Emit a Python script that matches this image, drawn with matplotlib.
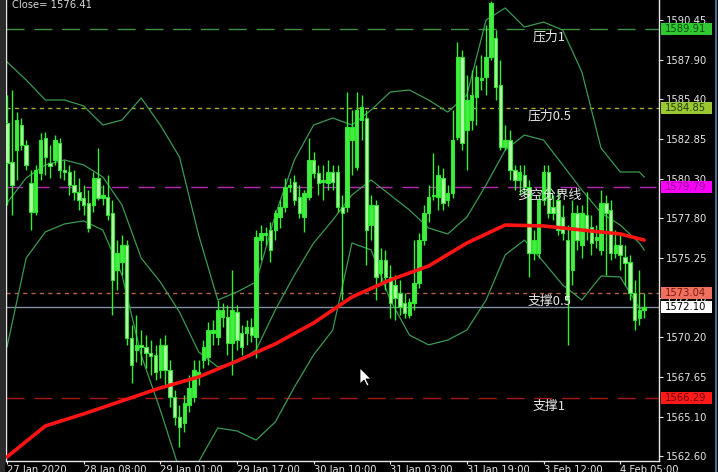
import matplotlib
matplotlib.use('Agg')
import matplotlib.pyplot as plt
import numpy as np
from matplotlib.transforms import blended_transform_factory
from matplotlib.lines import Line2D
from matplotlib.patches import Rectangle, Polygon

plt.rcParams['font.family'] = ['DejaVu Sans']
cjk = ['Noto Sans CJK SC', 'DejaVu Sans']

# H1 candles
opens = [1583.88, 1581.39, 1582.16, 1583.75, 1582.47, 1580.05, 1578.19, 1580.69, 1582.92, 1581.32,
         1581.52, 1582.60, 1580.88, 1580.75, 1579.92, 1579.47, 1579.09, 1578.77, 1578.64, 1580.37,
         1579.09, 1579.15, 1578.13, 1574.49, 1575.00, 1576.08, 1570.14, 1569.38, 1569.70, 1569.57,
         1569.18, 1569.06, 1568.10, 1569.70, 1568.10, 1566.37, 1565.09, 1564.71, 1565.86, 1566.37,
         1567.78, 1568.74, 1568.93, 1570.46, 1570.20, 1571.48, 1571.48, 1569.82, 1571.80, 1570.46,
         1570.46, 1570.84, 1570.20, 1576.40, 1576.72, 1577.04, 1577.04, 1577.87, 1578.51, 1579.79,
         1580.11, 1579.15, 1577.87, 1579.15, 1581.52, 1580.69, 1580.11, 1580.05, 1580.75, 1580.75,
         1578.51, 1578.51, 1582.79, 1581.07, 1584.07, 1584.20, 1577.36, 1578.64, 1574.30, 1575.13,
         1574.04, 1573.53, 1573.02, 1572.38, 1571.61, 1572.38, 1573.66, 1576.40, 1578.13, 1579.22,
         1579.15, 1580.37, 1578.96, 1579.41, 1582.99, 1588.10, 1583.43, 1584.07, 1585.54, 1586.63,
         1586.82, 1588.10, 1589.31, 1586.31, 1582.35, 1582.79, 1580.88, 1580.24, 1580.56, 1579.79,
         1575.57, 1575.57, 1578.96, 1580.75, 1578.51, 1578.96, 1577.87, 1576.40, 1574.49, 1578.13,
         1576.08, 1578.00, 1577.23, 1576.40, 1575.77, 1578.77, 1578.32, 1575.57, 1576.08, 1575.32,
         1575.00, 1573.02, 1571.42, 1571.93]
highs = [1585.67, 1585.99, 1584.58, 1584.20, 1582.79, 1580.88, 1581.20, 1583.24, 1583.31, 1582.47,
         1583.11, 1582.92, 1581.52, 1581.20, 1580.88, 1580.37, 1579.92, 1579.60, 1580.75, 1582.28,
         1579.92, 1580.56, 1578.96, 1576.40, 1576.72, 1576.40, 1570.97, 1571.61, 1570.65, 1570.33,
         1570.01, 1569.70, 1570.14, 1570.33, 1568.74, 1566.82, 1565.86, 1566.50, 1567.78, 1568.74,
         1568.74, 1570.01, 1571.16, 1571.29, 1572.57, 1572.38, 1572.25, 1574.49, 1572.25, 1570.97,
         1571.29, 1571.42, 1577.04, 1577.36, 1577.23, 1577.55, 1578.32, 1578.96, 1580.37, 1580.37,
         1580.56, 1579.92, 1579.60, 1582.92, 1582.03, 1581.20, 1581.20, 1581.52, 1581.20, 1581.20,
         1579.28, 1585.86, 1584.71, 1585.86, 1585.67, 1584.71, 1579.28, 1578.96, 1575.89, 1575.77,
         1574.81, 1574.17, 1573.85, 1573.02, 1572.70, 1576.40, 1576.85, 1578.64, 1579.92, 1581.96,
         1581.20, 1581.00, 1579.92, 1584.71, 1589.06, 1588.55, 1586.95, 1587.27, 1587.59, 1588.23,
         1590.14, 1591.70, 1589.82, 1587.91, 1583.75, 1583.43, 1581.20, 1581.20, 1581.20, 1580.24,
         1577.04, 1579.28, 1581.20, 1581.20, 1579.28, 1579.60, 1578.64, 1577.36, 1578.96, 1578.64,
         1578.64, 1579.47, 1578.00, 1577.36, 1579.60, 1579.28, 1578.96, 1577.04, 1576.72, 1576.08,
         1575.45, 1573.85, 1574.49, 1573.02]
lows = [1578.64, 1578.00, 1580.24, 1582.16, 1580.88, 1577.04, 1578.00, 1580.24, 1580.56, 1580.37,
        1581.20, 1580.37, 1580.24, 1579.28, 1578.96, 1578.32, 1578.00, 1576.92, 1578.19, 1578.96,
        1578.64, 1577.68, 1571.61, 1573.21, 1574.17, 1569.70, 1567.27, 1568.61, 1568.42, 1568.22,
        1567.78, 1567.46, 1567.59, 1567.14, 1565.73, 1564.58, 1563.18, 1564.14, 1565.41, 1566.05,
        1567.14, 1568.22, 1568.42, 1569.70, 1569.70, 1570.84, 1569.06, 1567.78, 1569.38, 1569.06,
        1569.70, 1569.89, 1568.86, 1575.13, 1576.08, 1575.00, 1576.40, 1577.17, 1578.19, 1579.47,
        1578.64, 1577.81, 1576.92, 1578.96, 1580.37, 1579.28, 1578.96, 1579.60, 1579.60, 1578.19,
        1572.57, 1578.19, 1580.56, 1580.88, 1582.79, 1574.81, 1576.40, 1572.57, 1573.53, 1573.21,
        1571.42, 1571.29, 1571.61, 1571.42, 1571.42, 1571.93, 1573.34, 1576.08, 1577.55, 1578.96,
        1578.32, 1578.32, 1578.58, 1579.09, 1582.79, 1582.16, 1580.88, 1583.43, 1583.75, 1585.99,
        1585.67, 1587.91, 1585.35, 1582.16, 1582.16, 1580.24, 1579.60, 1579.28, 1579.28, 1574.04,
        1575.13, 1575.25, 1578.64, 1577.81, 1577.68, 1576.72, 1576.40, 1569.70, 1573.53, 1575.77,
        1575.25, 1576.40, 1575.45, 1575.89, 1575.45, 1574.17, 1575.13, 1575.25, 1574.49, 1573.53,
        1572.57, 1570.65, 1570.97, 1571.42]
closes = [1581.32, 1579.92, 1584.07, 1582.47, 1581.20, 1578.19, 1580.88, 1582.79, 1581.71, 1581.13,
          1582.79, 1580.88, 1580.75, 1579.92, 1579.47, 1578.96, 1578.64, 1577.17, 1580.37, 1579.09,
          1579.28, 1578.00, 1573.85, 1575.57, 1576.08, 1570.14, 1568.42, 1569.70, 1569.57, 1569.18,
          1568.99, 1567.97, 1569.70, 1568.10, 1566.37, 1565.09, 1564.45, 1565.99, 1566.95, 1568.10,
          1567.97, 1569.57, 1570.65, 1570.65, 1571.93, 1571.93, 1569.82, 1571.93, 1570.01, 1569.57,
          1570.84, 1570.33, 1576.60, 1576.85, 1576.85, 1575.77, 1578.13, 1578.51, 1579.79, 1579.92,
          1578.96, 1578.13, 1579.41, 1581.52, 1580.69, 1580.05, 1580.24, 1580.75, 1580.11, 1578.51,
          1578.13, 1583.62, 1583.62, 1584.71, 1584.90, 1577.04, 1578.64, 1574.04, 1575.13, 1574.04,
          1572.38, 1572.70, 1572.12, 1571.74, 1572.44, 1573.66, 1576.40, 1578.13, 1579.15, 1579.28,
          1580.56, 1578.77, 1579.41, 1582.79, 1588.10, 1582.60, 1585.35, 1585.67, 1586.82, 1586.76,
          1588.10, 1591.55, 1586.18, 1582.35, 1582.79, 1580.88, 1580.24, 1580.75, 1579.79, 1575.57,
          1576.40, 1578.96, 1580.75, 1578.13, 1578.13, 1577.04, 1576.85, 1572.57, 1578.13, 1576.40,
          1578.13, 1577.04, 1576.21, 1576.60, 1578.77, 1578.13, 1575.57, 1576.08, 1575.45, 1574.93,
          1573.02, 1571.29, 1571.93, 1572.10]

# Bollinger bands, read every 4 bars
band_bars = [0, 4, 8, 12, 16, 20, 24, 28, 32, 36, 40, 44, 48, 52, 56, 60, 64, 68,
             72, 76, 80, 84, 88, 92, 96, 100, 104, 108, 112, 116, 120, 124, 128, 132, 133]
bb_upper = [1587.78, 1586.63, 1585.35, 1585.35, 1584.97, 1583.75, 1584.07, 1585.48, 1583.75, 1581.71,
            1576.72, 1572.57, 1573.08, 1573.72, 1578.00, 1581.52, 1583.75, 1584.20, 1583.75, 1584.71,
            1585.86, 1585.99, 1585.35, 1584.58, 1585.67, 1590.46, 1591.23, 1590.01, 1590.33, 1589.82,
            1587.14, 1582.28, 1580.75, 1580.75, 1580.43]
bb_middle = [1578.77, 1580.37, 1581.20, 1581.52, 1581.20, 1580.43, 1578.64, 1575.25, 1573.72, 1571.80,
             1569.25, 1568.29, 1568.61, 1569.38, 1571.93, 1574.17, 1576.21, 1577.68, 1579.28, 1580.24,
             1579.28, 1578.32, 1577.17, 1576.79, 1577.87, 1579.92, 1582.16, 1583.11, 1582.79, 1581.20,
             1579.60, 1578.13, 1577.36, 1576.21, 1575.77]
bb_lower = [1569.57, 1575.25, 1576.92, 1577.43, 1577.62, 1577.04, 1574.17, 1569.06, 1565.54, 1561.71,
            1562.22, 1564.39, 1564.20, 1563.62, 1564.77, 1567.01, 1569.06, 1570.65, 1576.21, 1575.77,
            1572.57, 1570.33, 1569.70, 1570.01, 1570.65, 1572.57, 1575.45, 1576.40, 1575.00, 1573.53,
            1572.57, 1574.10, 1574.04, 1572.06, 1571.93]

# red moving average, read every 8 bars
ma_bars = [0, 8, 16, 24, 32, 40, 48, 56, 64, 72, 80, 88, 96, 104, 112, 120, 128, 133]
ma_vals = [1562.54, 1564.52, 1565.29, 1566.12, 1566.95, 1567.65, 1568.67, 1569.76, 1571.10, 1572.76,
           1573.85, 1574.74, 1576.21, 1577.36, 1577.30, 1577.04, 1576.79, 1576.40]

# horizontal levels
level_prices = [1589.91, 1584.85, 1579.79, 1573.04, 1566.29]
level_names = ['压力1', '压力0.5', '多空分界线', '支撑0.5', '支撑1']
level_colors = ['#3f923f', '#aaaa3a', '#b428b4', '#b4604c', '#aa1616']
level_box = ['#32c832', '#9ac832', '#ff00ff', '#f07060', '#ff1a1a']
level_text = ['#0a4a0a', '#2a3a0a', '#8a008a', '#7a1a10', '#700000']
level_dash = [(13, 7), (3, 3), (12, 7), (3, 3), (13, 7)]
bid_price = 1572.10

yticks = [1590.45, 1587.90, 1585.40, 1582.85, 1580.30, 1577.80, 1575.25, 1572.70,
          1570.20, 1567.65, 1565.10, 1562.60]
xtick_bars = [0, 16, 32, 48, 64, 80, 96, 112, 128]
xtick_labels = ['27 Jan 2020', '28 Jan 08:00', '29 Jan 01:00', '29 Jan 17:00', '30 Jan 10:00',
                '31 Jan 03:00', '31 Jan 19:00', '3 Feb 12:00', '4 Feb 05:00']

W, H = 718, 472
fig = plt.figure(figsize=(W / 100, H / 100), dpi=100, facecolor='black')
ax = fig.add_axes([6 / W, 11 / H, 653 / W, 461 / H], facecolor='black')
ax.set_xlim(-0.21, 136.1)
ax.set_ylim(1562.28, 1591.74)

bars = np.arange(len(closes))
o = np.array(opens); c = np.array(closes)
h = np.array(highs); l = np.array(lows)
up = c >= o

# levels
for p, col, d in zip(level_prices, level_colors, level_dash):
    ax.axhline(p, color=col, lw=1.0, dashes=d, zorder=1)
ax.axhline(bid_price, color='#8090a2', lw=1.0, zorder=1)

# bands
for band in (bb_upper, bb_middle, bb_lower):
    ax.plot(band_bars, band, color='#3a9a52', lw=0.9, zorder=2)

# candles
ax.vlines(bars, l, h, color='#33ee33', lw=1.0, zorder=3)
body_h = np.maximum(np.abs(c - o), 0.07)
body_b = np.minimum(o, c)
ax.bar(bars[up], body_h[up], bottom=body_b[up], width=0.72, color='#45ec45',
       edgecolor='#2ee82e', linewidth=0.8, zorder=4)
ax.bar(bars[~up], body_h[~up], bottom=body_b[~up], width=0.72, color='#b4f7a8',
       edgecolor='#2ee82e', linewidth=0.8, zorder=4)

# moving average
ax.plot(ma_bars, ma_vals, color='#ff1414', lw=2.6, solid_capstyle='round', zorder=5)

# level captions
for p, name in zip(level_prices, level_names):
    ax.annotate(name, (113.2, p), xytext=(0, -1.5), textcoords='offset points',
                ha='center', va='top', color='#e6e6e6', fontsize=9.3, family=cjk, zorder=6)

# axes styling
for s in ['left', 'bottom', 'right']:
    ax.spines[s].set_color('#e8e8e8')
    ax.spines[s].set_linewidth(1.0)
ax.spines['top'].set_visible(False)
ax.yaxis.tick_right()
ax.set_yticks(yticks)
ax.set_yticklabels([f'{v:.2f}' for v in yticks])
ax.tick_params(axis='y', colors='#e6e6e6', length=3, width=0.8, labelsize=7.2, pad=2)
ax.set_xticks(xtick_bars)
ax.set_xticklabels(xtick_labels, ha='left')
ax.tick_params(axis='x', colors='#e6e6e6', length=2.5, width=0.8, labelsize=7.2, pad=0.5)

# price boxes on the right scale
tr = blended_transform_factory(ax.transAxes, ax.transData)
box_prices = level_prices + [bid_price]
box_colors = level_box + ['#ffffff']
box_text = level_text + ['#000000']
for p, bc, tc in zip(box_prices, box_colors, box_text):
    ax.add_patch(Rectangle((1 + 2 / 653, p - 0.39), 51 / 653, 0.78, transform=tr,
                           facecolor=bc, edgecolor='none', clip_on=False, zorder=7))
    ax.text(1 + 6 / 653, p, f'{p:.2f}', transform=tr, ha='left', va='center',
            fontsize=7.2, color=tc, clip_on=False, zorder=8)

fig.text(12 / W, 1 - 5 / H, 'Close= 1576.41', color='#d8d8d8', fontsize=7.2, va='center')

# window border and mouse pointer
fig.add_artist(Line2D([716 / W, 716 / W], [0, 1], color='#4d6d90', lw=1.5))
fig.add_artist(Rectangle((0, 0), 4 / W, 1, transform=fig.transFigure, color='#2a2a2a'))
cur = [(0, 0), (0, 16), (4, 12), (7, 18), (9, 17), (6, 11), (11, 11)]
fig.add_artist(Polygon([((360 + dx) / W, 1 - (368 + dy) / H) for dx, dy in cur],
                       closed=True, facecolor='white', edgecolor='black', lw=0.6,
                       transform=fig.transFigure))

fig.savefig('out.png', dpi=100, facecolor='black')
